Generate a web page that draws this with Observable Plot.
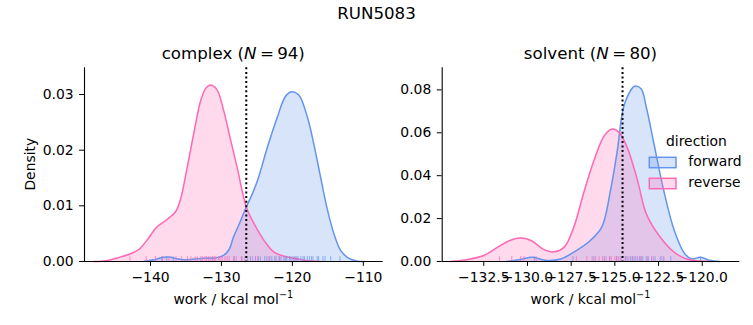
<!DOCTYPE html>
<html><head><meta charset="utf-8">
<script src="https://cdn.jsdelivr.net/npm/d3@7"></script>
<script src="https://cdn.jsdelivr.net/npm/@observablehq/plot@0.6"></script>
<style>
body{margin:0;background:#fff;}
#fig{position:relative;width:753px;height:325px;font-family:"DejaVu Sans",sans-serif;color:#000;}
#fig svg{position:absolute;top:0;}
</style></head><body><div id="fig"></div>
<script>
// ---------- data ----------
const suptitle = "RUN5083";
const panels = ["complex", "solvent"];
const panelN = [94, 80];
const directions = ["forward", "reverse"];
const colors = ["#6495ED", "#FF69B4"];

// KDE curves (work in kcal/mol, density)
const complexFwdWork = [-141, -139.5, -138.4, -137.4, -136.3, -135.3, -134, -132.5, -131.1, -129.7, -128.9, -128.3, -127.4, -126.5, -125.7, -124.9, -123.5, -122.1, -121.0, -120.1, -119.1, -117.9, -116.9, -116.0, -115.1, -114.1, -113.2, -112.2, -111, -109.8];
const complexFwdDens = [0, 0.0003, 0.0007, 0.0008, 0.0005, 0.0003, 0.0004, 0.0006, 0.0006, 0.0011, 0.0022, 0.0044, 0.0070, 0.0098, 0.0120, 0.0146, 0.0206, 0.0260, 0.0296, 0.0305, 0.0299, 0.0260, 0.0206, 0.0150, 0.0095, 0.0048, 0.0020, 0.0007, 0.0001, 0];
const complexRevWork = [-148, -146, -144.5, -142.8, -141.6, -140.5, -139.1, -137.7, -136.5, -135.8, -134.9, -133.9, -132.9, -132.2, -131.5, -130.6, -129.7, -128.7, -127.8, -126.5, -125.4, -124.0, -122.6, -120.7, -119, -117.5, -116];
const complexRevDens = [0, 0.0002, 0.0007, 0.0014, 0.0022, 0.0038, 0.0062, 0.0075, 0.0089, 0.0110, 0.0164, 0.0230, 0.0290, 0.0311, 0.0317, 0.0308, 0.0272, 0.0218, 0.0170, 0.0098, 0.0068, 0.0038, 0.0017, 0.0008, 0.0004, 0.0001, 0];
const solventFwdWork = [-131.2, -130.5, -129.7, -129.0, -128.1, -127.2, -126.4, -125.75, -125.25, -124.86, -124.5, -124.1, -123.88, -123.5, -123.2, -122.8, -122.2, -121.6, -121.0, -120.6, -120.1, -119.6, -119.0];
const solventFwdDens = [0, 0.0008, 0.0020, 0.0006, 0.0012, 0.0051, 0.0098, 0.0160, 0.0330, 0.0517, 0.0719, 0.0797, 0.0817, 0.0805, 0.0719, 0.0564, 0.0330, 0.0145, 0.0036, 0.0012, 0.0020, 0.0006, 0];
const solventRevWork = [-134.4, -133.5, -132.5, -131.7, -131.0, -130.4, -129.8, -129.1, -128.5, -127.9, -127.35, -126.8, -126.2, -125.6, -125.15, -124.77, -124.3, -123.7, -123.2, -122.4, -121.6, -120.9, -120.1, -119.5];
const solventRevDens = [0, 0.0008, 0.0028, 0.0067, 0.0098, 0.0109, 0.0098, 0.0058, 0.0045, 0.0067, 0.0160, 0.0315, 0.0470, 0.0587, 0.0618, 0.0603, 0.0533, 0.0377, 0.0222, 0.0113, 0.0043, 0.0012, 0.0002, 0];

// rug samples (estimated)
const complexFwdRug = [-138.4, -137.7, -136.8, -131.3, -128.2, -127.1, -126.3, -125.9, -125.2, -124.8, -124.5, -123.9, -123.6, -123.2, -122.9, -122.5, -122.3, -121.8, -121.6, -121.2, -121.0, -120.8, -120.4, -120.2, -119.9, -119.6, -119.4, -119.2, -118.8, -118.5, -118.3, -117.9, -117.6, -117.3, -117.1, -116.5, -116.3, -115.7, -115.4, -114.6, -113.3];
const complexRevRug = [-142.9, -140.6, -139.3, -138.3, -137.4, -136.4, -135.6, -134.8, -134.3, -133.7, -133.4, -132.9, -132.7, -132.3, -132.1, -131.8, -131.6, -131.2, -131.0, -130.8, -130.4, -130.2, -129.9, -129.5, -129.2, -128.9, -128.3, -127.9, -127.2, -126.7, -125.6, -124.9, -123.3, -121.9, -119.7];
const solventFwdRug = [-129.6, -127.4, -126.2, -125.6, -125.3, -124.9, -124.7, -124.4, -124.3, -124.1, -124.0, -123.9, -123.8, -123.6, -123.5, -123.4, -123.2, -123.1, -122.9, -122.7, -122.4, -122.2, -121.8, -120.1];
const solventRevRug = [-131.6, -130.9, -130.4, -130.2, -129.5, -127.2, -126.6, -126.3, -126.1, -125.9, -125.7, -125.5, -125.3, -125.2, -125.0, -124.9, -124.8, -124.6, -124.4, -124.2, -124.0, -123.7, -123.5, -123.1, -122.8, -122.3];

// dotted reference lines
const complexRef = [-126.5];
const solventRef = [-124.56];

// axes
const complexXDomain = [-149.3, -107.2];
const complexYDomain = [0, 0.0348];
const complexXTicks = [-140, -130, -120, -110];
const complexYTicks = [0, 0.01, 0.02, 0.03];
const solventXDomain = [-134.88, -117.85];
const solventYDomain = [0, 0.0903];
const solventXTicks = [-132.5, -130, -127.5, -125, -122.5, -120];
const solventYTicks = [0, 0.02, 0.04, 0.06, 0.08];

// ---------- build ----------
const curve = (ws, ds) => ws.map((w, i) => ({w, d: ds[i]}));
const fig = document.getElementById("fig");
const FS = "13.9px";

function panel({fwd, rev, fwdRug, revRug, ref, xDomain, yDomain, xTicks, yTicks, xFmt, left, width, mL, mR}) {
  const rugH = 0.025 * yDomain[1];
  const sets = [fwd, rev];
  const rugs = [fwdRug, revRug];
  const marks = [];
  sets.forEach((s, i) => {
    marks.push(Plot.areaY(s, {x: "w", y: "d", fill: colors[i], fillOpacity: 0.25, curve: "catmull-rom"}));
  });
  sets.forEach((s, i) => {
    marks.push(Plot.lineY(s, {x: "w", y: "d", stroke: colors[i], strokeWidth: 1.5, curve: "catmull-rom"}));
  });
  rugs.forEach((r, i) => {
    marks.push(Plot.ruleX(r, {x: d => d, y1: 0, y2: rugH, stroke: colors[i], strokeWidth: 1, strokeOpacity: 0.7}));
  });
  marks.push(Plot.ruleX(ref, {stroke: "black", strokeWidth: 2, strokeDasharray: "2,2.6"}));
  marks.push(Plot.ruleY([yDomain[0]], {stroke: "black", strokeWidth: 1.1}));
  marks.push(Plot.ruleX([xDomain[0]], {stroke: "black", strokeWidth: 1.1}));
  marks.push(Plot.axisX({ticks: xTicks, tickFormat: xFmt, tickSize: 4.9, tickPadding: 5.5, label: null, fontSize: FS}));
  marks.push(Plot.axisY({ticks: yTicks, tickFormat: d3.format(".2f"), tickSize: 4.9, tickPadding: 6, label: null, fontSize: FS}));
  const svg = Plot.plot({
    width, height: 325,
    marginLeft: mL, marginRight: mR, marginTop: 67.3, marginBottom: 64,
    x: {domain: xDomain},
    y: {domain: yDomain},
    style: {fontFamily: "DejaVu Sans", fontSize: FS, background: "transparent", color: "black", overflow: "visible"},
    marks
  });
  svg.style.left = left + "px";
  fig.appendChild(svg);
}

panel({
  fwd: curve(complexFwdWork, complexFwdDens), rev: curve(complexRevWork, complexRevDens),
  fwdRug: complexFwdRug, revRug: complexRevRug, ref: complexRef,
  xDomain: complexXDomain, yDomain: complexYDomain, xTicks: complexXTicks, yTicks: complexYTicks,
  xFmt: d3.format("d"), left: 0, width: 390, mL: 84, mR: 7.3
});
panel({
  fwd: curve(solventFwdWork, solventFwdDens), rev: curve(solventRevWork, solventRevDens),
  fwdRug: solventFwdRug, revRug: solventRevRug, ref: solventRef,
  xDomain: solventXDomain, yDomain: solventYDomain, xTicks: solventXTicks, yTicks: solventYTicks,
  xFmt: d3.format(".1f"), left: 390, width: 363, mL: 51.7, mR: 13.7
});

// ---------- text overlay ----------
const ov = d3.select(fig).append("svg").attr("width", 753).attr("height", 325)
  .style("left", "0px").style("font-family", "DejaVu Sans").style("pointer-events", "none");
ov.append("text").attr("x", 376.5).attr("y", 18.6).attr("text-anchor", "middle")
  .style("font-size", "16.67px").text(suptitle);
const centers = [233.3, 590.5];
panels.forEach((p, i) => {
  const t = ov.append("text").attr("x", centers[i]).attr("y", 59).attr("text-anchor", "middle").style("font-size", "16.67px");
  t.append("tspan").text(p + " (");
  t.append("tspan").style("font-style", "italic").text("N");
  t.append("tspan").text("\u2009=\u2009" + panelN[i] + ")");
  const xl = ov.append("text").attr("x", centers[i]).attr("y", 304).attr("text-anchor", "middle").style("font-size", FS);
  xl.append("tspan").text("work / kcal mol");
  xl.append("tspan").attr("dy", -6).style("font-size", "9.7px").text("\u22121");
});
ov.append("text").attr("transform", "translate(35,164.2) rotate(-90)").attr("text-anchor", "middle")
  .style("font-size", FS).text("Density");
// legend
ov.append("text").attr("x", 666).attr("y", 146).style("font-size", FS).text("direction");
directions.forEach((d, i) => {
  const y = 157.3 + i * 21;
  ov.append("rect").attr("x", 649.3).attr("y", y).attr("width", 26.7).attr("height", 10.4)
    .attr("fill", colors[i]).attr("fill-opacity", 0.25).attr("stroke", colors[i]).attr("stroke-width", 1.5);
  ov.append("text").attr("x", 688.3).attr("y", y + 9).style("font-size", FS).text(d);
});
</script></body></html>
